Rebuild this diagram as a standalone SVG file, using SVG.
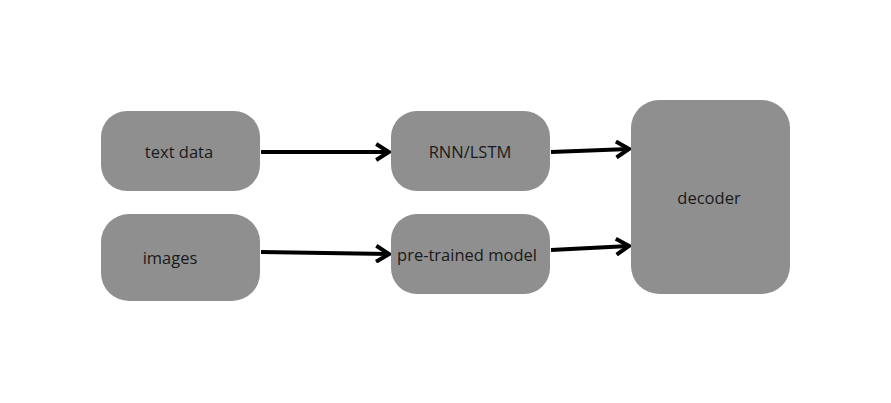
<svg xmlns="http://www.w3.org/2000/svg" width="891" height="403" viewBox="0 0 891 403">
<style>
.node rect{fill:#8f8f8f}
.node text{font-family:"Open Sans","Liberation Sans",sans-serif;font-size:16.5px;fill:#1a1a1a;text-anchor:middle;dominant-baseline:central}
.conn path{fill:none;stroke:#000;stroke-width:4}
</style>
<defs>
<marker id="ah" viewBox="0 0 10 12" refX="9" refY="6" markerWidth="4" markerHeight="4.8" markerUnits="strokeWidth" orient="auto">
<path d="M1,1 L9,6 L1,11" fill="none" stroke="#000" stroke-width="2.5"/>
</marker>
</defs>
<rect width="891" height="403" fill="#fff"/>
<g id="text-data" class="node"><rect x="101" y="111" width="159" height="80" rx="26"/><text x="179" y="151">text data</text></g>
<g id="images" class="node"><rect x="101" y="214" width="159" height="87" rx="28"/><text x="170" y="257">images</text></g>
<g id="rnn-lstm" class="node"><rect x="391" y="111" width="159" height="80" rx="26"/><text x="470" y="151">RNN/LSTM</text></g>
<g id="pretrained" class="node"><rect x="391" y="214" width="159" height="80" rx="26"/><text x="467" y="254">pre-trained model</text></g>
<g id="decoder" class="node"><rect x="631" y="100" width="159" height="194" rx="28"/><text x="709" y="197">decoder</text></g>
<g id="connectors" class="conn">
<path d="M261,152 L389,152" marker-end="url(#ah)"/>
<path d="M261,252 L389,254" marker-end="url(#ah)"/>
<path d="M551,152 L629,149" marker-end="url(#ah)"/>
<path d="M551,250 L629,246" marker-end="url(#ah)"/>
</g>
</svg>
